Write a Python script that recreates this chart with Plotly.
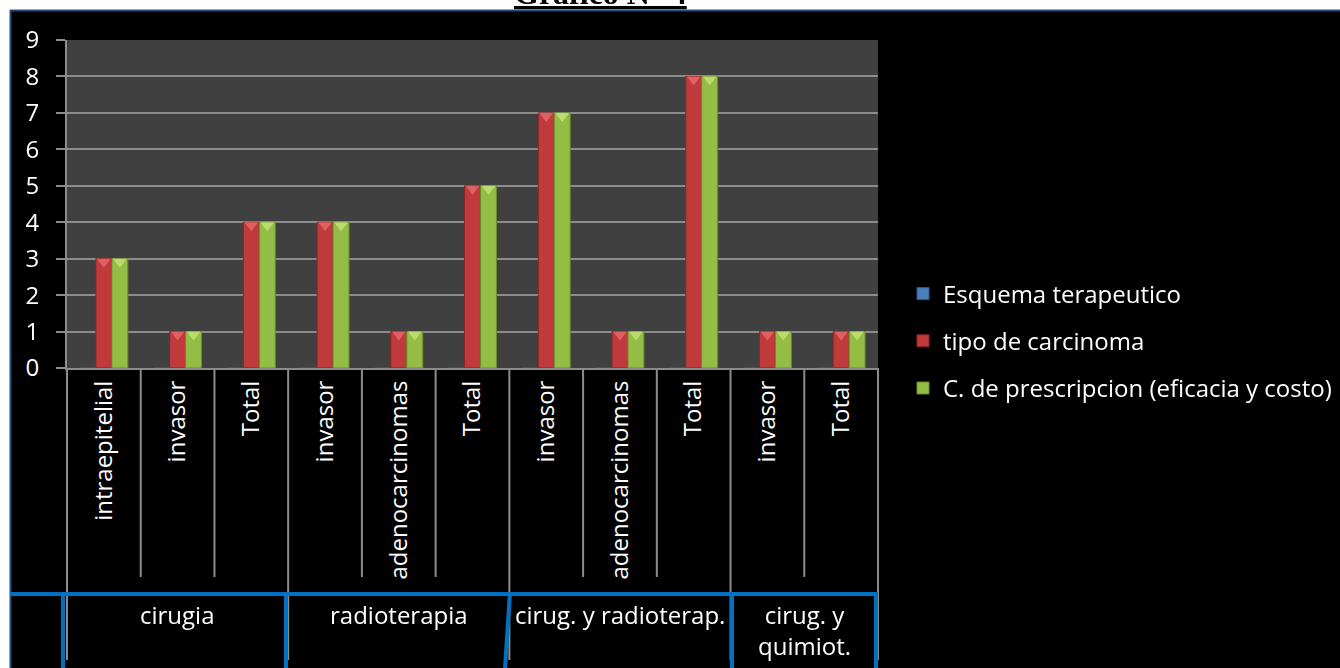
import plotly.graph_objects as go

# ---- data ----
categories = ["intraepitelial", "invasor", "Total", "invasor", "adenocarcinomas", "Total",
              "invasor", "adenocarcinomas", "Total", "invasor", "Total"]
groups = ["cirugia", "radioterapia", "cirug. y radioterap.", "cirug. y<br>quimiot."]
group_sizes = [3, 3, 3, 2]
series_names = ["Esquema terapeutico", "tipo de carcinoma", "C. de prescripcion (eficacia y costo)"]
esquema = [0, 0, 0, 0, 0, 0, 0, 0, 0, 0, 0]
tipo = [3, 1, 4, 4, 1, 5, 7, 1, 8, 1, 1]
prescripcion = [3, 1, 4, 4, 1, 5, 7, 1, 8, 1, 1]
yticks = [0, 1, 2, 3, 4, 5, 6, 7, 8, 9]
title_text = "Gráfico N° 4"

# ---- layout constants (pixels) ----
W, H = 1340, 668
L, R, T, B = 67, 878, 40, 368
FONT = "Open Sans"
FS = 24
GRAY = "#8C8C8C"
BLUE_BORDER = "#0070C0"
BARGAP = 0.35

def xp(px):
    return (px - L) / (R - L)

def yp(py):
    return (B - py) / (B - T)

n = len(categories)
xs = list(range(n))
ymax = 9
px_per_unit = (B - T) / ymax

fig = go.Figure()
colors = ["#4A7EBB", "#C0393B", "#93BD45"]
lines = ["#2C5A8F", "#8C2426", "#6A8C2C"]
highlights = ["#8FB4E3", "#E4686B", "#C6DF78"]
series_vals = [esquema, tipo, prescripcion]
for i, (name, vals) in enumerate(zip(series_names, series_vals)):
    fig.add_trace(go.Bar(
        x=xs, y=vals, name=name, legendgroup=str(i),
        marker=dict(color=colors[i], line=dict(color=lines[i], width=1)),
    ))

# bevel highlight on top of each bar (decorative)
bw = (1 - BARGAP) / 3
msize = 12
shift = (msize / 4) / px_per_unit
for i, vals in enumerate(series_vals):
    bx = [x + (i - 1) * bw for x, v in zip(xs, vals) if v > 0]
    by = [v - shift for v in vals if v > 0]
    if bx:
        fig.add_trace(go.Scatter(
            x=bx, y=by, mode="markers", showlegend=False, hoverinfo="skip",
            marker=dict(symbol="triangle-down", size=msize, color=highlights[i], line=dict(width=0)),
            opacity=0.85,
        ))

shapes = []
# white page strips and dark page border
shapes.append(dict(type="rect", xref="paper", yref="paper", x0=xp(0), x1=xp(W), y0=yp(0), y1=yp(10),
                   fillcolor="white", line=dict(width=0), layer="above"))
shapes.append(dict(type="rect", xref="paper", yref="paper", x0=xp(0), x1=xp(10), y0=yp(0), y1=yp(H),
                   fillcolor="white", line=dict(width=0), layer="above"))
shapes.append(dict(type="line", xref="paper", yref="paper", x0=xp(10), x1=xp(W), y0=yp(10.5), y1=yp(10.5),
                   line=dict(color="#2B4A7C", width=2), layer="above"))
shapes.append(dict(type="line", xref="paper", yref="paper", x0=xp(10.5), x1=xp(10.5), y0=yp(10), y1=yp(H),
                   line=dict(color="#2B4A7C", width=2), layer="above"))

# category separators
group_bounds = {0}
acc = 0
for s in group_sizes:
    acc += s
    group_bounds.add(acc)
for b in range(n + 1):
    xpaper = b / n
    bottom = 660 if b in group_bounds else 577
    shapes.append(dict(type="line", xref="paper", yref="paper", x0=xpaper, x1=xpaper,
                       y0=0, y1=yp(bottom), line=dict(color=GRAY, width=2)))

# blue table borders
shapes.append(dict(type="line", xref="paper", yref="paper", x0=xp(10), x1=xp(878), y0=yp(594), y1=yp(594),
                   line=dict(color=BLUE_BORDER, width=4)))
for (xa, xb) in [(63, 63), (286, 286), (510, 505), (732, 732), (876, 876)]:
    shapes.append(dict(type="line", xref="paper", yref="paper", x0=xp(xa), x1=xp(xb), y0=yp(592), y1=yp(H),
                       line=dict(color=BLUE_BORDER, width=4)))

annotations = []
start = 0
for g, s in zip(groups, group_sizes):
    center = start + (s - 1) / 2
    annotations.append(dict(x=center, xref="x", y=yp(596), yref="paper", text=g, showarrow=False,
                            xanchor="center", yanchor="top", align="center",
                            font=dict(family=FONT, size=FS, color="white")))
    start += s

annotations.append(dict(x=xp(600), xref="paper", y=yp(13), yref="paper",
                        text="<b><u>" + title_text + "</u></b>", showarrow=False,
                        xanchor="center", yanchor="bottom",
                        font=dict(family="Liberation Serif", size=32, color="black")))

fig.update_layout(
    width=W, height=H, autosize=False,
    margin=dict(l=L, r=W - R, t=T, b=H - B, pad=0, autoexpand=False),
    paper_bgcolor="black", plot_bgcolor="#404040",
    barmode="group", bargap=BARGAP, bargroupgap=0,
    font=dict(family=FONT, size=FS, color="white"),
    showlegend=True,
    legend=dict(x=xp(903), xanchor="left", y=yp(341), yanchor="middle",
                traceorder="grouped", tracegroupgap=13, bgcolor="rgba(0,0,0,0)",
                font=dict(family=FONT, size=FS, color="white"), itemwidth=30),
    shapes=shapes, annotations=annotations,
    xaxis=dict(range=[-0.5, n - 0.5], tickvals=xs, ticktext=categories, tickangle=-90,
               ticks="", showgrid=False, zeroline=False, showline=True, linecolor=GRAY, linewidth=2,
               tickfont=dict(family=FONT, size=FS, color="white"), ticklabelstandoff=1,
               automargin=False),
    yaxis=dict(range=[0, ymax], tickvals=yticks, showgrid=True, gridcolor=GRAY, gridwidth=2,
               ticks="outside", ticklen=9, tickwidth=2, tickcolor=GRAY, zeroline=False,
               showline=True, linecolor=GRAY, linewidth=2,
               tickfont=dict(family=FONT, size=FS, color="white"), ticklabelstandoff=12,
               automargin=False),
)

fig.write_html("out.html")
